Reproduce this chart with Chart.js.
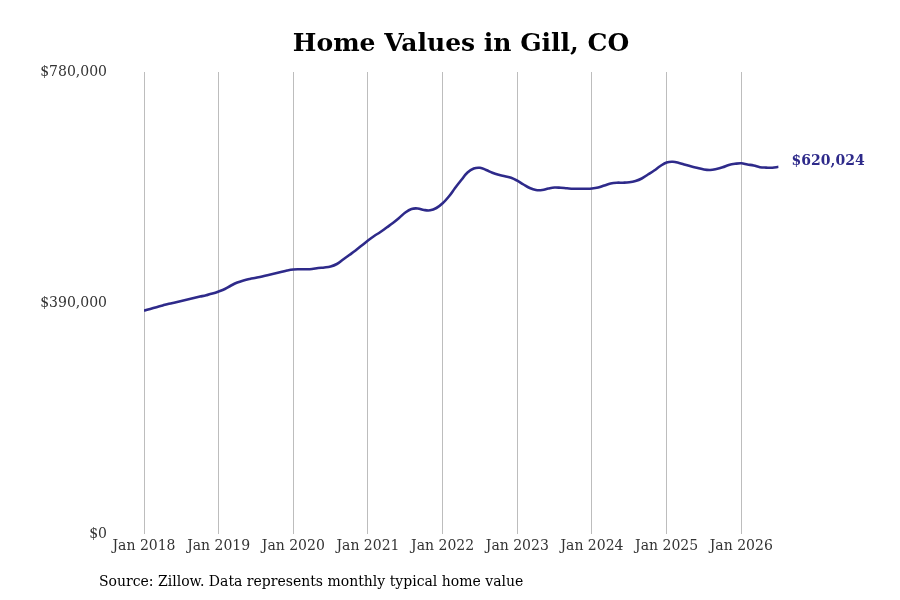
<!DOCTYPE html>
<html>
<head>
<meta charset="utf-8">
<script src="https://cdn.jsdelivr.net/npm/chart.js@4.4.1/dist/chart.umd.min.js"></script>
<style>
  html, body { margin: 0; padding: 0; background: #fff; }
  #wrap { position: relative; width: 900px; height: 600px; }
</style>
</head>
<body>
<div id="wrap"><canvas id="myChart" width="900" height="600"></canvas></div>
<script>
const chart_title = 'Home Values in Gill, CO';
const source_text = 'Source: Zillow. Data represents monthly typical home value';
const line_color = '#2e2a8a';

// months since Jan 2018, ticks every January
const tick_months = [0, 12, 24, 36, 48, 60, 72, 84, 96];
const tick_labels = ['Jan 2018', 'Jan 2019', 'Jan 2020', 'Jan 2021', 'Jan 2022', 'Jan 2023', 'Jan 2024', 'Jan 2025', 'Jan 2026'];
const y_ticks = [0, 390000, 780000];

// monthly typical home value, Jan 2018 .. Jul 2026
const values_2018 = [377000, 379870, 382910, 385780, 388650, 391010, 393380, 395910, 398440, 400800, 403170, 405870];
const values_2019 = [409420, 413640, 419550, 424610, 427990, 430520, 432550, 434740, 437270, 439800, 442340, 444870];
const values_2020 = [446560, 446900, 446900, 447400, 449090, 449940, 451620, 455840, 463440, 471040, 478640, 487080];
const values_2021 = [495520, 503120, 509870, 517470, 525060, 533510, 542790, 548700, 549550, 547010, 546510, 550390];
const values_2022 = [558320, 569810, 584160, 597660, 610320, 617080, 618260, 614550, 609820, 606440, 603910, 601380];
const values_2023 = [596480, 590060, 584160, 580780, 580780, 583310, 585000, 584490, 583650, 582970, 582970, 582970];
const values_2024 = [583310, 585000, 588380, 591750, 593100, 593100, 593780, 595970, 600190, 606950, 613700, 621300];
const values_2025 = [627210, 628390, 626360, 623320, 620450, 617920, 615390, 614550, 616230, 619100, 622990, 625010];
const values_2026 = [625850, 623820, 622140, 619270, 618600, 618430, 620024];

const values = [].concat(values_2018, values_2019, values_2020, values_2021, values_2022,
  values_2023, values_2024, values_2025, values_2026);
const points = values.map((v, i) => ({ x: i, y: v }));

const font_family = '"DejaVu Serif", serif';

const extras = {
  id: 'extras',
  afterDraw(chart) {
    const ctx = chart.ctx;
    ctx.save();
    ctx.fillStyle = '#000';
    ctx.font = 'bold 25px ' + font_family;
    ctx.textAlign = 'center';
    ctx.textBaseline = 'middle';
    ctx.fillText(chart_title, 461, 44);

    ctx.font = '14px ' + font_family;
    ctx.textAlign = 'left';
    ctx.fillText(source_text, 99, 582);

    // end label next to the last point
    const meta = chart.getDatasetMeta(0);
    const last = meta.data[meta.data.length - 1];
    const lastVal = values[values.length - 1];
    ctx.fillStyle = line_color;
    ctx.font = 'bold 14px ' + font_family;
    ctx.fillText('$' + lastVal.toLocaleString('en-US'), last.x + 13, last.y - 5);
    ctx.restore();
  }
};

const config = {
  type: 'line',
  data: {
    datasets: [{
      data: points,
      borderColor: line_color,
      borderWidth: 2.6,
      pointRadius: 0,
      tension: 0.4,
      fill: false
    }]
  },
  options: {
    responsive: false,
    animation: false,
    layout: { padding: { left: 0, right: 121.4, top: 72, bottom: 0 } },
    plugins: {
      legend: { display: false },
      tooltip: { enabled: false }
    },
    scales: {
      x: {
        type: 'linear',
        min: 0,
        max: 102,
        afterBuildTicks: (scale) => { scale.ticks = tick_months.map(v => ({ value: v })); },
        afterFit: (scale) => { scale.height = 66; },
        ticks: {
          callback: (v) => tick_labels[tick_months.indexOf(v)],
          color: '#333',
          font: { family: font_family, size: 14 },
          padding: 4,
          maxRotation: 0,
          autoSkip: false
        },
        grid: { color: '#bdbdbd', drawTicks: false, lineWidth: 1 },
        border: { display: false }
      },
      y: {
        min: 0,
        max: 780000,
        afterBuildTicks: (scale) => { scale.ticks = y_ticks.map(v => ({ value: v })); },
        afterFit: (scale) => { scale.width = 144; },
        ticks: {
          callback: (v) => '$' + v.toLocaleString('en-US'),
          color: '#333',
          font: { family: font_family, size: 14 },
          padding: 29
        },
        grid: { display: false },
        border: { display: false }
      }
    }
  },
  plugins: [extras]
};

new Chart(document.getElementById('myChart'), config);
</script>
</body>
</html>
